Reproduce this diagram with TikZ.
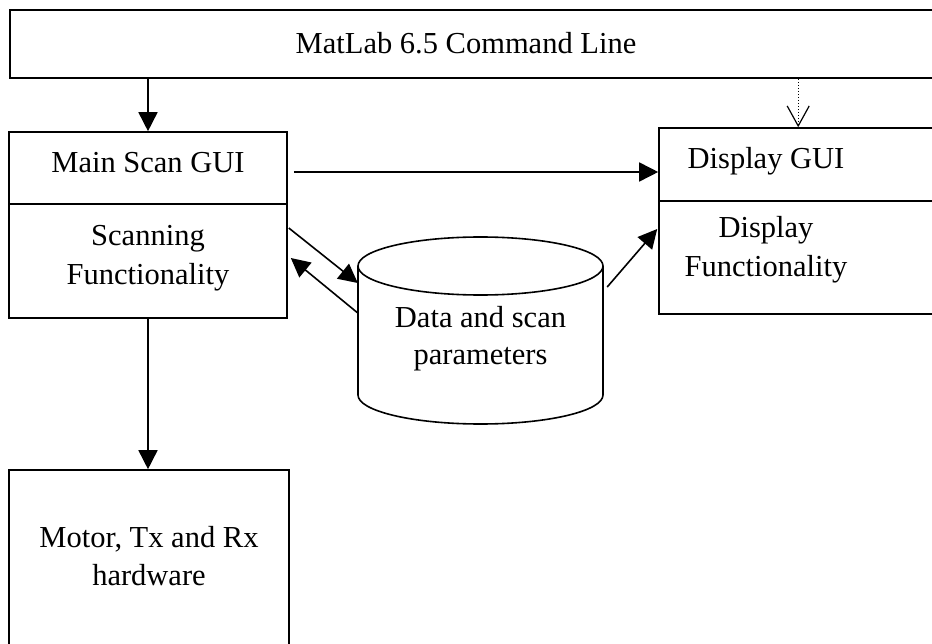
\documentclass[tikz,border=0pt]{standalone}
\usepackage{fontspec}
\setmainfont{Liberation Serif}
\usetikzlibrary{arrows.meta,calc}
\begin{document}
\begin{tikzpicture}[x=1pt,y=-1pt,
  box/.style={draw,line width=1.6pt,rectangle,inner sep=0pt},
  lbl/.style={font=\fontsize{30.5}{39.5}\selectfont,align=center,anchor=base,inner sep=0pt},
  conn/.style={line width=1.6pt,-{Triangle[length=19pt,width=19pt]}},
  dotarr/.style={line width=1pt,dotted,-{Straight Barb[length=20pt,width=22pt,line width=1.2pt]}}]
\useasboundingbox (0,0) rectangle (932,644);
\clip (0,0) rectangle (932,644);
\fill[white] (0,0) rectangle (932,644);
% boxes
\node[box,minimum width=935pt,minimum height=68pt] (cmd) at (477.5,44) {};
\node[box,minimum width=278pt,minimum height=72pt] (mtop) at (148,168) {};
\node[box,minimum width=278pt,minimum height=114pt] (mbot) at (148,261) {};
\node[box,minimum width=286pt,minimum height=73pt] (dtop) at (802,164.5) {};
\node[box,minimum width=286pt,minimum height=113pt] (dbot) at (802,257.5) {};
\node[box,minimum width=280pt,minimum height=190pt] (motor) at (149,565) {};
% cylinder
\draw[line width=1.6pt] (358,266) -- (358,395) arc[start angle=180,end angle=0,x radius=122.5,y radius=29] -- (603,266);
\draw[line width=1.6pt] (480.5,266) ellipse[x radius=122.5,y radius=29];
\node[minimum width=245pt,minimum height=187pt,inner sep=0pt] (cyl) at (480.5,330.5) {};
% texts (anchor = baseline of the last line)
\node[lbl] (tcmd) at (466,54) {MatLab 6.5 Command Line};
\node[lbl] (tmtop) at (148,173) {Main Scan GUI};
\node[lbl] (tmbot) at (148,285) {Scanning\\Functionality};
\node[lbl] (tdtop) at (766,169) {Display GUI};
\node[lbl] (tdbot) at (766,277) {Display\\Functionality};
\node[lbl,font=\fontsize{30.5}{38}\selectfont] (tmotor) at (149,585) {Motor, Tx and Rx\\hardware};
\node[lbl,font=\fontsize{30.5}{37}\selectfont] (tcyl) at (480.5,365) {Data and scan\\parameters};
% connectors
\draw[conn] (cmd.south -| mtop.north) -- (mtop.north);
\coordinate (dd) at ($(dtop.north west)+(140,0)$);
\draw[dotarr] (cmd.south -| dd) -- (dd);
\coordinate (h1) at ($(mtop.east)+(6,4)$);
\draw[conn] (h1) -- (h1 -| dtop.west);
\draw[conn] ($(mbot.east)+(1,-33)$) -- ($(cyl.west)+(0,-47.5)$);
\draw[conn] ($(cyl.west)+(0,-17.5)$) -- ($(mbot.east)+(3,-3)$);
\draw[conn] ($(cyl.east)+(4,-43.5)$) -- ($(dbot.west)+(-1,-28.5)$);
\draw[conn] (mbot.south) -- (mbot.south |- motor.north);
\end{tikzpicture}
\end{document}
